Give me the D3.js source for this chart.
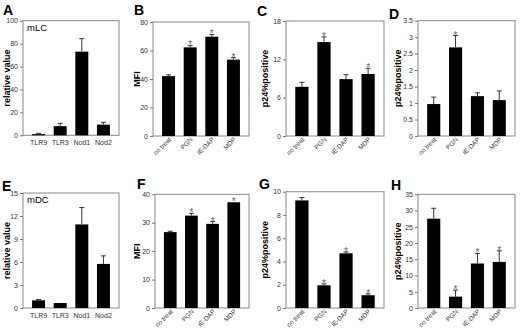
<!DOCTYPE html>
<html>
<head>
<meta charset="utf-8">
<script src="https://cdn.jsdelivr.net/npm/d3@7"></script>
<style>
  body { margin: 0; background: #fff; }
  svg { font-family: "Liberation Sans", Arial, sans-serif; }
  .tick text { fill: #333; font-size: 7px; }
  .tick line { stroke: #777; }
  .domain { stroke: #888; }
</style>
</head>
<body>
<svg id="fig" width="520" height="330"></svg>
<script>
// categories
const genes = ["TLR9", "TLR3", "Nod1", "Nod2"];
const treatments = ["no treat", "PGN", "iE-DAP", "MDP"];

// A: mLC relative value
const mlcValues = [1.0, 8.0, 73, 9.3];
const mlcErrors = [0.7, 2.5, 11.3, 2.0];
// B: mLC MFI
const mlcMfiValues = [42, 62.2, 69.7, 53.6];
const mlcMfiErrors = [0.9, 1.4, 1.6, 1.4];
const mlcMfiStars = [0, 1, 1, 1];
// C: p24 % positive
const cP24Values = [7.7, 14.7, 8.9, 9.7];
const cP24Errors = [0.7, 0.8, 0.7, 0.9];
const cP24Stars = [0, 1, 0, 1];
// D: p24 % positive
const dP24Values = [0.97, 2.69, 1.21, 1.09];
const dP24Errors = [0.21, 0.36, 0.1, 0.28];
const dP24Stars = [0, 1, 0, 0];
// E: mDC relative value
const mdcValues = [1.0, 0.65, 10.9, 5.75];
const mdcErrors = [0.1, 0, 2.2, 1.05];
// F: mDC MFI
const mdcMfiValues = [26.7, 32.5, 29.6, 37.2];
const mdcMfiErrors = [0.3, 0.8, 0.8, 0];
const mdcMfiStars = [0, 1, 1, 1];
// G: p24 % positive
const gP24Values = [9.25, 1.95, 4.7, 1.1];
const gP24Errors = [0.25, 0.12, 0.12, 0.12];
const gP24Stars = [0, 1, 1, 1];
// H: p24 % positive
const hP24Values = [27.5, 3.5, 13.7, 14.2];
const hP24Errors = [3.2, 2.0, 3.1, 3.4];
const hP24Stars = [0, 1, 1, 1];

const svg = d3.select("#fig");

const panels = [
  {letter: "A", lx: 3, ly: 15, x0: 23, x1: 119, top: 20.7, bottom: 135.3, max: 100, step: 20,
   cats: genes, values: mlcValues, errors: mlcErrors, stars: null, ylabel: "relative value", labX: 7, inset: "mLC"},
  {letter: "B", lx: 134, ly: 15, x0: 153, x1: 249, top: 22, bottom: 136, max: 80, step: 20,
   cats: treatments, values: mlcMfiValues, errors: mlcMfiErrors, stars: mlcMfiStars, ylabel: "MFI", labX: 137},
  {letter: "C", lx: 257, ly: 16, x0: 286, x1: 384, top: 21, bottom: 136, max: 18, step: 6,
   cats: treatments, values: cP24Values, errors: cP24Errors, stars: cP24Stars, ylabel: "p24%positive", labX: 265},
  {letter: "D", lx: 389, ly: 19, x0: 418, x1: 515, top: 20.7, bottom: 136, max: 3.5, step: 0.5,
   cats: treatments, values: dP24Values, errors: dP24Errors, stars: dP24Stars, ylabel: "p24%positive", labX: 398},
  {letter: "E", lx: 2, ly: 191, x0: 23, x1: 119, top: 193, bottom: 308, max: 15, step: 3,
   cats: genes, values: mdcValues, errors: mdcErrors, stars: null, ylabel: "relative value", labX: 7, inset: "mDC"},
  {letter: "F", lx: 137, ly: 189, x0: 155, x1: 249, top: 194.3, bottom: 308, max: 40, step: 10,
   cats: treatments, values: mdcMfiValues, errors: mdcMfiErrors, stars: mdcMfiStars, ylabel: "MFI", labX: 137},
  {letter: "G", lx: 259, ly: 189, x0: 286, x1: 384, top: 191.7, bottom: 308, max: 10, step: 2,
   cats: treatments, values: gP24Values, errors: gP24Errors, stars: gP24Stars, ylabel: "p24%positive", labX: 265},
  {letter: "H", lx: 391, ly: 190, x0: 418, x1: 515, top: 194.3, bottom: 308, max: 35, step: 5,
   cats: treatments, values: hP24Values, errors: hP24Errors, stars: hP24Stars, ylabel: "p24%positive", labX: 398}
];

panels.forEach(p => drawPanel(p));

function drawPanel(p) {
  const g = svg.append("g");

  const x = d3.scaleBand().domain(p.cats).range([p.x0, p.x1])
    .paddingInner(0.4).paddingOuter(0.42);
  const y = d3.scaleLinear().domain([0, p.max]).range([p.bottom, p.top]);

  // frame
  g.append("rect")
    .attr("x", p.x0).attr("y", p.top)
    .attr("width", p.x1 - p.x0).attr("height", p.bottom - p.top)
    .attr("fill", "none").attr("stroke", "#888").attr("stroke-width", 1);

  // y axis
  const ticks = d3.range(0, p.max + p.step / 2, p.step);
  g.append("g")
    .attr("transform", `translate(${p.x0},0)`)
    .call(d3.axisLeft(y).tickValues(ticks).tickSize(3).tickPadding(2).tickFormat(d3.format("~g")))
    .call(a => a.select(".domain").remove());

  // bars
  g.selectAll(".bar").data(p.values).enter().append("rect")
    .attr("x", (d, i) => x(p.cats[i]))
    .attr("y", d => y(d))
    .attr("width", x.bandwidth())
    .attr("height", d => y(0) - y(d))
    .attr("fill", "#000");

  // error bars (upper only)
  const cx = i => x(p.cats[i]) + x.bandwidth() / 2;
  p.values.forEach((v, i) => {
    const e = p.errors[i];
    if (e <= 0) return;
    g.append("line")
      .attr("x1", cx(i)).attr("x2", cx(i))
      .attr("y1", y(v)).attr("y2", y(v + e))
      .attr("stroke", "#333").attr("stroke-width", 1);
    g.append("line")
      .attr("x1", cx(i) - 2.5).attr("x2", cx(i) + 2.5)
      .attr("y1", y(v + e)).attr("y2", y(v + e))
      .attr("stroke", "#333").attr("stroke-width", 1);
  });

  // significance stars
  if (p.stars) {
    p.values.forEach((v, i) => {
      if (!p.stars[i]) return;
      g.append("text")
        .attr("x", cx(i)).attr("y", y(v + p.errors[i]) + 3)
        .attr("text-anchor", "middle")
        .attr("font-size", 10).attr("fill", "#666")
        .text("*");
    });
  }

  // category labels
  if (p.cats === genes) {
    g.selectAll(".cat").data(p.cats).enter().append("text")
      .attr("x", d => x(d) + x.bandwidth() / 2)
      .attr("y", p.bottom + 10)
      .attr("text-anchor", "middle")
      .attr("font-size", 7).attr("fill", "#333")
      .text(d => d);
  } else {
    g.selectAll(".cat").data(p.cats).enter().append("text")
      .attr("transform", d => `translate(${x(d) + x.bandwidth() / 2 + 3},${p.bottom + 4}) rotate(-45)`)
      .attr("text-anchor", "end")
      .attr("font-size", 6.5).attr("fill", "#333")
      .text(d => d);
  }

  // y label
  g.append("text")
    .attr("transform", `translate(${p.labX + 3},${(p.top + p.bottom) / 2}) rotate(-90)`)
    .attr("text-anchor", "middle")
    .attr("font-size", 9).attr("font-weight", "bold")
    .text(p.ylabel);

  // inset label
  if (p.inset) {
    g.append("text")
      .attr("x", p.x0 + 4).attr("y", p.top + 10)
      .attr("font-size", 9.5)
      .text(p.inset);
  }

  // panel letter
  svg.append("text")
    .attr("x", p.lx).attr("y", p.ly)
    .attr("font-size", 14).attr("font-weight", "bold")
    .text(p.letter);
}
</script>
</body>
</html>
